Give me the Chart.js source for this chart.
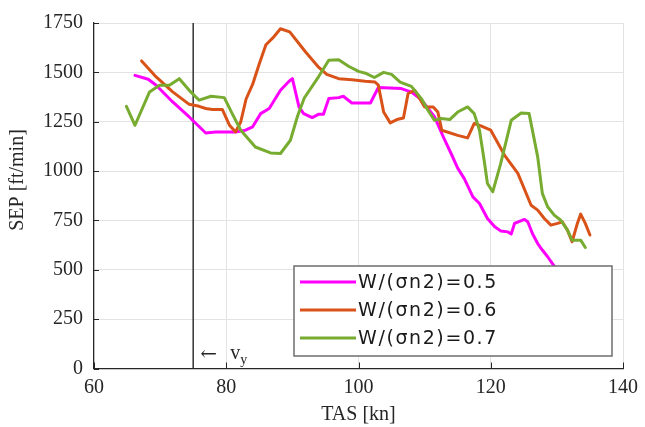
<!DOCTYPE html>
<html>
<head>
<meta charset="utf-8">
<script src="https://cdn.jsdelivr.net/npm/chart.js@4/dist/chart.umd.min.js"></script>
<style>
  html, body { margin: 0; padding: 0; background: #fff; }
</style>
</head>
<body>
<canvas id="chart" width="645" height="427"></canvas>
<script>
// W/(sigma n2) = 0.5
var tas05 = [66.2, 68.2, 69.4, 71.9, 74.4, 76.9, 78.4, 81.4, 82.9, 84.0, 85.2, 86.5, 88.2, 89.5, 90.0,
  91.0, 91.7, 93.0, 94.0, 94.7, 95.5, 97.0, 97.7, 99.0, 101.8, 103.0, 106.5, 108.0, 109.5, 111.5,
  113.0, 114.0, 115.0, 116.0, 117.3, 118.3, 119.5, 120.6, 121.5, 122.6, 123.1, 123.6, 125.1, 125.6,
  126.3, 127.1, 127.8, 128.6, 129.3, 130.0];
var sep05 = [1485, 1465, 1435, 1350, 1274, 1193, 1198, 1198, 1207, 1224, 1291, 1317, 1409, 1455, 1468,
  1325, 1291, 1271, 1288, 1288, 1367, 1372, 1379, 1345, 1345, 1423, 1418, 1400, 1362, 1274,
  1160, 1089, 1015, 962, 869, 836, 760, 718, 697, 692, 681, 735, 755, 743,
  684, 633, 600, 566, 532, 500];

// W/(sigma n2) = 0.6
var tas06 = [67.2, 69.4, 71.9, 74.4, 75.9, 76.9, 77.9, 79.4, 80.5, 81.4, 82.2, 83.0, 84.0, 85.0, 86.0,
  87.2, 88.2, 89.6, 92.0, 94.0, 95.2, 97.0, 99.0, 101.0, 102.5, 103.0, 103.8, 104.8, 105.8, 106.8,
  107.5, 108.5, 110.0, 111.3, 112.0, 112.6, 115.0, 116.5, 117.5, 118.5, 120.0, 122.1, 124.1, 126.1,
  127.1, 128.1, 129.1, 130.1, 130.8, 131.6, 132.3, 133.1, 133.6, 134.3, 135.0];
var sep06 = [1558, 1477, 1401, 1338, 1328, 1317, 1312, 1312, 1232, 1198, 1250, 1365, 1440, 1544, 1640,
  1680, 1721, 1705, 1603, 1525, 1490, 1468, 1463, 1455, 1451, 1435, 1299, 1244, 1261, 1269,
  1393, 1409, 1325, 1325, 1299, 1207, 1181, 1168, 1241, 1229, 1207, 1080, 988, 827,
  802, 760, 726, 735, 743, 701, 642, 735, 782, 735, 676];

// W/(sigma n2) = 0.7
var tas07 = [64.9, 66.2, 68.4, 69.9, 71.4, 72.9, 74.4, 75.9, 77.7, 79.7, 80.9, 82.2, 84.4, 86.7, 88.2,
  89.7, 90.8, 91.8, 94.0, 95.5, 97.0, 98.5, 100.0, 101.2, 102.4, 103.8, 105.0, 106.3, 108.0, 109.5,
  110.5, 111.5, 112.5, 113.8, 115.0, 116.5, 117.5, 118.3, 119.0, 119.5, 120.3, 121.5, 123.1, 124.6,
  125.8, 127.1, 127.8, 128.6, 129.6, 130.6, 131.6, 132.3, 133.6, 134.3];
var sep07 = [1328, 1232, 1401, 1435, 1435, 1468, 1409, 1359, 1379, 1372, 1291, 1207, 1122, 1092, 1089,
  1156, 1280, 1370, 1480, 1561, 1564, 1531, 1505, 1494, 1474, 1500, 1490, 1451, 1429, 1367,
  1308, 1257, 1266, 1261, 1299, 1325, 1291, 1207, 1055, 937, 895, 1038, 1257, 1294,
  1291, 1072, 887, 819, 777, 751, 701, 650, 650, 613];

var seriesLabels = ['W/(\u03c3n2)=0.5', 'W/(\u03c3n2)=0.6', 'W/(\u03c3n2)=0.7'];
var seriesColors = ['#ff00ff', '#d95319', '#77ac30'];

var vyLine = 75;
var vyRange = [0, 1750];

var xMin = 60, xMax = 140, xStep = 20;
var yMin = 0, yMax = 1750, yStep = 250;

function toPoints(xs, ys) {
  var pts = [];
  for (var i = 0; i < xs.length; i++) {
    pts.push({x: xs[i], y: ys[i]});
  }
  return pts;
}

var axisColor = '#262626';
var serif = '"Liberation Serif", "DejaVu Serif", serif';

// inward ticks, v_y note and legend box drawn on top of the plot
var extras = {
  id: 'extras',
  afterDraw: function(chart) {
    var ctx = chart.ctx;
    var xs = chart.scales.x, ys = chart.scales.y;
    var area = chart.chartArea;

    ctx.save();
    ctx.strokeStyle = axisColor;
    ctx.lineWidth = 1;
    xs.ticks.forEach(function(t) {
      var px = Math.round(xs.getPixelForValue(t.value)) + 0.5;
      ctx.beginPath();
      ctx.moveTo(px, area.bottom);
      ctx.lineTo(px, area.bottom - 6);
      ctx.stroke();
    });
    ys.ticks.forEach(function(t) {
      var py = Math.round(ys.getPixelForValue(t.value)) + 0.5;
      ctx.beginPath();
      ctx.moveTo(area.left, py);
      ctx.lineTo(area.left + 5, py);
      ctx.stroke();
    });

    // y axis title
    ctx.fillStyle = axisColor;
    ctx.font = '20px ' + serif;
    ctx.textAlign = 'center';
    ctx.textBaseline = 'middle';
    ctx.translate(18, 180);
    ctx.rotate(-Math.PI / 2);
    ctx.fillText('SEP [ft/min]', 0, 0);
    ctx.restore();

    // v_y note
    ctx.save();
    var vx = xs.getPixelForValue(vyLine);
    ctx.fillStyle = axisColor;
    ctx.textAlign = 'left';
    ctx.textBaseline = 'alphabetic';
    ctx.font = '20px "DejaVu Serif", serif';
    ctx.fillText('\u2190', vx + 7, 360);
    ctx.font = '20px ' + serif;
    ctx.fillText('v', vx + 37, 359);
    ctx.font = '14px ' + serif;
    ctx.fillText('y', vx + 47, 364);
    ctx.restore();

    // legend
    ctx.save();
    var bx = 294, by = 266, bw = 318, bh = 90;
    ctx.fillStyle = '#ffffff';
    ctx.fillRect(bx, by, bw, bh);
    ctx.strokeStyle = '#6e6e6e';
    ctx.lineWidth = 1.5;
    ctx.strokeRect(bx, by, bw, bh);
    ctx.font = '19px "DejaVu Sans", sans-serif';
    ctx.letterSpacing = '1.6px';
    ctx.textBaseline = 'middle';
    ctx.textAlign = 'left';
    for (var i = 0; i < seriesLabels.length; i++) {
      var ry = by + 16 + i * 28;
      ctx.strokeStyle = seriesColors[i];
      ctx.lineWidth = 3;
      ctx.beginPath();
      ctx.moveTo(bx + 6, ry);
      ctx.lineTo(bx + 62, ry);
      ctx.stroke();
      ctx.fillStyle = '#1a1a1a';
      ctx.fillText(seriesLabels[i], bx + 64, ry + 1);
    }
    ctx.restore();
  }
};

var lineStyle = {
  borderWidth: 3,
  pointRadius: 0,
  fill: false,
  tension: 0,
  borderJoinStyle: 'round',
  borderCapStyle: 'round'
};

var datasets = [
  Object.assign({label: seriesLabels[0], data: toPoints(tas05, sep05), borderColor: seriesColors[0], order: 3}, lineStyle),
  Object.assign({label: seriesLabels[1], data: toPoints(tas06, sep06), borderColor: seriesColors[1], order: 2}, lineStyle),
  Object.assign({label: seriesLabels[2], data: toPoints(tas07, sep07), borderColor: seriesColors[2], order: 1}, lineStyle),
  {
    label: 'vy',
    data: toPoints([vyLine, vyLine], vyRange),
    borderColor: '#333333',
    borderWidth: 1.5,
    pointRadius: 0,
    order: 10
  }
];

function plainTick(value) {
  return String(value);
}

new Chart(document.getElementById('chart').getContext('2d'), {
  type: 'line',
  data: {datasets: datasets},
  options: {
    responsive: false,
    animation: false,
    layout: {padding: {top: 23, right: 19, left: 0, bottom: 0}},
    plugins: {
      legend: {display: false},
      tooltip: {enabled: false}
    },
    scales: {
      x: {
        type: 'linear',
        min: xMin,
        max: xMax,
        afterFit: function(scale) { scale.height = 58.5; },
        ticks: {
          stepSize: xStep,
          padding: 7,
          color: axisColor,
          font: {family: serif, size: 20},
          callback: plainTick
        },
        grid: {color: '#e3e3e3', lineWidth: 1, drawTicks: false},
        border: {display: true, color: axisColor, width: 1.2},
        title: {
          display: true,
          text: 'TAS [kn]',
          color: axisColor,
          font: {family: serif, size: 20},
          padding: {top: 0, bottom: 0}
        }
      },
      y: {
        type: 'linear',
        min: yMin,
        max: yMax,
        afterFit: function(scale) { scale.width = 94; },
        ticks: {
          stepSize: yStep,
          padding: 11,
          color: axisColor,
          font: {family: serif, size: 20},
          callback: plainTick
        },
        grid: {color: '#e3e3e3', lineWidth: 1, drawTicks: false},
        border: {display: true, color: axisColor, width: 1.2}
      }
    }
  },
  plugins: [extras]
});
</script>
</body>
</html>
